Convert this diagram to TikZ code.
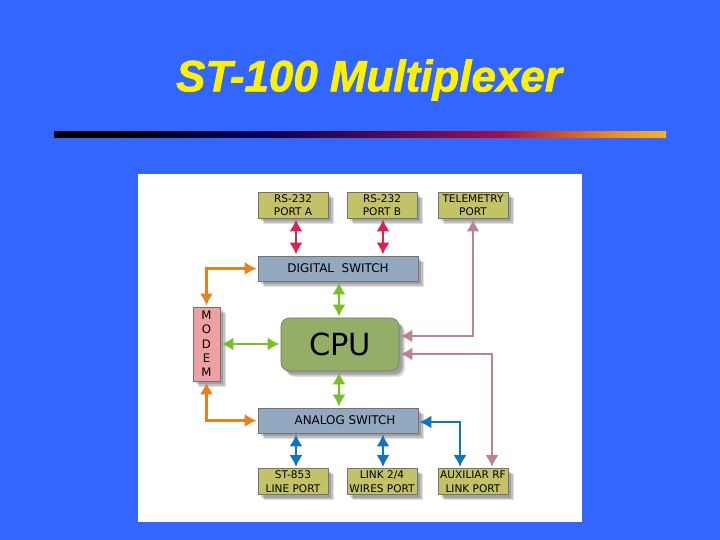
\documentclass[tikz,border=0pt]{standalone}
\usepackage{fontspec}
\setmainfont{DejaVu Sans}
\newfontfamily\titlefont[FakeBold=1.6]{Liberation Sans}
\usetikzlibrary{arrows.meta, shadows}
\tikzset{>={Latex[width=4mm,length=3.6mm]}}
\definecolor{slidebg}{HTML}{3366FF}
\definecolor{portcol}{HTML}{C3C266}
\definecolor{switchcol}{HTML}{92A9BF}
\definecolor{cpucol}{HTML}{94AE68}
\definecolor{modemcol}{HTML}{EFA0A4}
\definecolor{redline}{HTML}{D8244F}
\definecolor{orangeline}{HTML}{E6811F}
\definecolor{greenline}{HTML}{77C127}
\definecolor{pinkline}{HTML}{BC8490}
\definecolor{blueline}{HTML}{0F76BE}
\definecolor{barnavy}{HTML}{000050}
\definecolor{barpurple}{HTML}{5A0A50}
\definecolor{barcrimson}{HTML}{A01048}
\definecolor{barrust}{HTML}{D2552A}
\definecolor{barorange}{HTML}{EE9022}
\definecolor{bargold}{HTML}{F5B41E}
\pgfdeclarehorizontalshading{barshade}{100bp}{
  color(0bp)=(black); color(30bp)=(black); color(41bp)=(barnavy); color(53bp)=(barpurple);
  color(61.5bp)=(barcrimson); color(66.5bp)=(barrust); color(71bp)=(barorange); color(75bp)=(bargold); color(100bp)=(bargold)}
\tikzset{
  shade box/.style={draw=black!55, line width=.5pt, text=black, inner sep=0pt, align=center,
    drop shadow={shadow xshift=.18cm, shadow yshift=-.18cm, fill=black, opacity=.12},
    drop shadow={shadow xshift=.14cm, shadow yshift=-.14cm, fill=black, opacity=.14},
    drop shadow={shadow xshift=.10cm, shadow yshift=-.10cm, fill=black, opacity=.16}},
  portbox/.style={shade box, fill=portcol, minimum width=2.1cm, minimum height=.78cm,
    font=\fontsize{9}{11.5}\selectfont},
  switchbox/.style={shade box, fill=switchcol, minimum width=4.8cm, minimum height=.75cm,
    font=\fontsize{10.2}{12}\selectfont},
  link/.style={<->, line width=2.1pt, shorten <=1pt, shorten >=1pt},
}

\begin{document}
\begin{tikzpicture}
  \fill[slidebg] (0,0) rectangle (21.6,16.2);
  \fill[white] (4.14,.54) rectangle (17.46,10.98);
  \shade[shading=barshade] (1.62,12.06) rectangle (19.98,12.24);

  \node[text=yellow, font=\titlefont\fontsize{37.5}{44}\selectfont\bfseries\itshape] (TITLE) at (11.07,13.8) {ST-100 Multiplexer};

  \node[portbox] (PORTA) at (8.79,10.05) {RS-232\\PORT A};
  \node[portbox] (PORTB) at (11.46,10.05) {RS-232\\PORT B};
  \node[portbox] (TELEM) at (14.19,10.05) {TELEMETRY\\PORT};
  \node[switchbox] (DIGITAL) at (10.14,8.145) {DIGITAL\ \ SWITCH};
  \node[shade box, fill=modemcol, minimum width=.81cm, minimum height=2.22cm, font=\fontsize{10}{12.2}\selectfont] (MODEM) at (6.195,5.88) {M\\O\\D\\E\\M};
  \node[shade box, fill=cpucol, rounded corners=.25cm, minimum width=3.54cm, minimum height=1.59cm, font=\fontsize{26}{30}\selectfont] (CPU) at (10.2,5.865) {CPU};
  \node[switchbox] (ANALOG) at (10.14,3.585) {\hspace*{.42cm}\raisebox{-.05cm}{ANALOG SWITCH}};
  \node[portbox] (LINE) at (8.79,1.755) {ST-853\\LINE PORT};
  \node[portbox] (WIRES) at (11.46,1.755) {LINK 2/4\\WIRES PORT};
  \node[portbox] (AUX) at (14.19,1.755) {AUXILIAR RF\\LINK PORT};

  \draw[link, redline] ([xshift=.09cm]PORTA.south) -- ([xshift=.09cm]PORTA.south |- DIGITAL.north);
  \draw[link, redline] ([xshift=.03cm]PORTB.south) -- ([xshift=.03cm]PORTB.south |- DIGITAL.north);

  \draw[link, orangeline] (DIGITAL.west) -| (MODEM.north);
  \draw[link, orangeline] (ANALOG.west) -| (MODEM.south);

  \draw[link, greenline] ([xshift=.03cm]DIGITAL.south) -- ([xshift=-.03cm]CPU.north);
  \draw[link, greenline] (MODEM.east) -- (MODEM.east -| CPU.west);
  \draw[link, greenline] ([xshift=-.03cm]CPU.south) -- ([xshift=.03cm]ANALOG.north);

  \draw[link, pinkline] (TELEM.south) |- ([yshift=.255cm]CPU.east);
  \draw[link, pinkline] ([xshift=.57cm]AUX.north) |- ([yshift=-.285cm]CPU.east);

  \draw[link, blueline] ([xshift=-.39cm]AUX.north) |- ([yshift=-.045cm]ANALOG.east);
  \draw[link, blueline] ([xshift=.09cm]ANALOG.south -| LINE.north) -- ([xshift=.09cm]LINE.north);
  \draw[link, blueline] ([xshift=.03cm]ANALOG.south -| WIRES.north) -- ([xshift=.03cm]WIRES.north);
\end{tikzpicture}
\end{document}
